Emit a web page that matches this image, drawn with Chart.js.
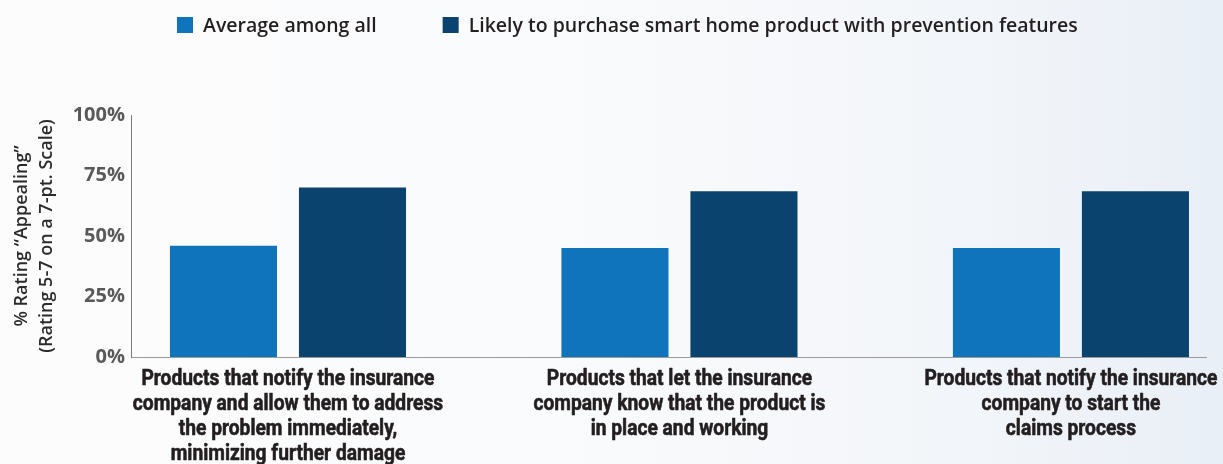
<!DOCTYPE html>
<html>
<head>
<meta charset="utf-8">
<script src="https://cdn.jsdelivr.net/npm/chart.js@4/dist/chart.umd.min.js"></script>
<style>
  html, body { margin: 0; padding: 0; }
  body {
    width: 1223px; height: 464px; overflow: hidden;
    background: linear-gradient(90deg, #fcfcfd 0%, #fafbfc 45%, #f2f5f9 80%, #e9eff7 100%);
  }
  #wrap { position: relative; width: 1223px; height: 464px; }
</style>
</head>
<body>
<div id="wrap"><canvas id="c" width="1223" height="464"></canvas></div>
<script>
// ---- data ----
const categories = [
  ["Products that notify the insurance", "company and allow them to address", "the problem immediately,", "minimizing further damage"],
  ["Products that let the insurance", "company know that the product is", "in place and working"],
  ["Products that notify the insurance", "company to start the", "claims process"]
];
const seriesNames = ["Average among all", "Likely to purchase smart home product with prevention features"];
const averageAll = [46, 45, 45];
const likelyPurchase = [70, 68.5, 68.5];
const yTicks = [0, 25, 50, 75, 100];
const yTitle = ["% Rating \u201CAppealing\u201D", "(Rating 5-7 on a 7-pt. Scale)"];

const colors = ["#0f74bc", "#09436e"];

const toPoints = arr => arr.map((v, i) => ({ x: i, y: v }));

// legend drawn on the canvas from dataset labels/colours
const legendPlugin = {
  id: 'topLegend',
  afterDraw(chart) {
    const ctx = chart.ctx;
    ctx.save();
    ctx.font = '600 19.5px "Open Sans"';
    ctx.textBaseline = 'middle';
    ctx.textAlign = 'left';
    const box = 16, gapText = 10, gapItem = 66, y = 25;
    let x = 177;
    chart.data.datasets.forEach(d => {
      ctx.fillStyle = d.backgroundColor;
      ctx.fillRect(x, y - box / 2, box, box);
      ctx.fillStyle = '#231f20';
      ctx.fillText(d.label, x + box + gapText, y + 1);
      x += box + gapText + ctx.measureText(d.label).width + gapItem;
    });
    ctx.restore();
  }
};

// condensed bold category labels under the x axis, placed by the x scale
const categoryLabelPlugin = {
  id: 'categoryLabels',
  afterDraw(chart) {
    const ctx = chart.ctx;
    const xs = chart.scales.x;
    const top = chart.chartArea.bottom;
    ctx.save();
    ctx.font = '700 22px Roboto';
    ctx.fillStyle = '#231f20';
    ctx.strokeStyle = '#231f20';
    ctx.lineWidth = 0.6;
    ctx.lineJoin = 'round';
    ctx.textAlign = 'center';
    ctx.textBaseline = 'middle';
    const k = 293 / ctx.measureText(categories[0][0]).width;
    categories.forEach((lines, i) => {
      const cx = xs.getPixelForValue(i);
      lines.forEach((line, j) => {
        ctx.save();
        ctx.translate(cx, top + 22 + j * 25);
        ctx.scale(k, 1);
        ctx.fillText(line, 0, 0);
        ctx.strokeText(line, 0, 0);
        ctx.restore();
      });
    });
    ctx.restore();
  }
};

new Chart(document.getElementById('c'), {
  type: 'bar',
  data: {
    datasets: [
      { label: seriesNames[0], data: toPoints(averageAll), backgroundColor: colors[0] },
      { label: seriesNames[1], data: toPoints(likelyPurchase), backgroundColor: colors[1] }
    ]
  },
  options: {
    responsive: false,
    animation: false,
    devicePixelRatio: 1,
    categoryPercentage: 0.659,
    barPercentage: 0.83,
    layout: { padding: { top: 115, right: 17, left: 0, bottom: 107 } },
    plugins: {
      legend: { display: false },
      tooltip: { enabled: false }
    },
    scales: {
      x: {
        type: 'linear',
        bounds: 'data',
        offset: false,
        min: -0.401,
        max: 2.345,
        afterBuildTicks: scale => { scale.ticks = categories.map((_, i) => ({ value: i })); },
        grid: { display: false, drawTicks: false, offset: false },
        border: { display: true, color: '#9a9a9a', width: 1 },
        ticks: { display: false }
      },
      y: {
        min: 0,
        max: 100,
        afterBuildTicks: scale => { scale.ticks = yTicks.map(v => ({ value: v })); },
        afterFit: scale => { scale.width = 131; },
        grid: { display: false, drawTicks: false },
        border: { display: true, color: '#7a7a7a', width: 1, dash: [1, 1.6] },
        ticks: {
          padding: 6,
          color: '#595959',
          font: { family: '"Open Sans", sans-serif', weight: 'bold', size: 20 },
          callback: v => v + '%'
        },
        title: {
          display: true,
          text: yTitle,
          color: '#2b2b2b',
          padding: { top: 9, bottom: 0 },
          font: { family: '"Open Sans", sans-serif', weight: '600', size: 18, lineHeight: '25px' }
        }
      }
    }
  },
  plugins: [legendPlugin, categoryLabelPlugin]
});
</script>
</body>
</html>
